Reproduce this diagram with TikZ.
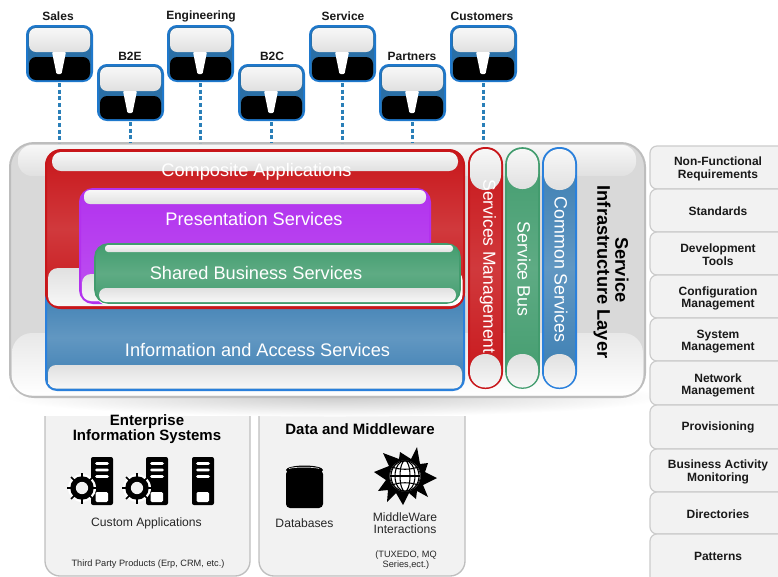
\documentclass[tikz,border=0pt]{standalone}
\usepackage{fontspec}
\setmainfont{Liberation Sans}
\newcommand\fs[1]{\fontsize{#1}{#1}\selectfont}
\tikzset{
  rr/.style={rounded corners=#1*0.75pt},
  bxbase/.style={inner sep=0pt,outer sep=0pt},
  glossdown/.style={top color=white!97!black,bottom color=black!12},
  glossup/.style={top color=black!12,bottom color=white!97!black},
  mainlabel/.style={text=white,font=\fs{13.65},inner sep=0pt},
  pilllabel/.style={text=white,font=\fs{13.4},inner sep=0pt},
  grouplabel/.style={text=black,font=\bfseries\fontsize{11.25}{11.4}\selectfont,align=center,inner sep=0pt},
  smalllabel/.style={text=black!85,font=\fontsize{9.1}{9.2}\selectfont,align=center,inner sep=0pt},
  tinylabel/.style={text=black!85,font=\fontsize{6.9}{7.6}\selectfont,align=center,inner sep=0pt},
  sidelabel/.style={text=black!90,font=\bfseries\fontsize{9}{9.6}\selectfont,align=center,inner sep=0pt},
  userlabel/.style={text=black!90,font=\bfseries\fs{9},inner sep=0pt},
  dotline/.style={draw=dotblue,line width=2.25pt,dash pattern=on 3pt off 2pt},
  sidebox/.style={draw=black!20,line width=0.9pt,fill=black!5,rr=7},
  redbox/.style={draw=cred,line width=1.5pt,top color=cred,bottom color=cred,middle color=cred!85!white},
  bluebox/.style={draw=cblueline,line width=1.5pt,top color=cblue,bottom color=cblue,middle color=cblue!80!white},
  greenbox/.style={draw=cgreen,line width=1.2pt,top color=cgreen,bottom color=cgreen,middle color=cgreen!85!white},
  purplebox/.style={draw=cpurple,line width=1.5pt,top color=cpurple,bottom color=cpurple!85!white}
}
\definecolor{cred}{HTML}{C8161A}
\definecolor{cblue}{HTML}{3A7DB2}
\definecolor{cblueline}{HTML}{2A80DC}
\definecolor{cgreen}{HTML}{429C6E}
\definecolor{cpurple}{HTML}{B232EE}
\definecolor{dotblue}{HTML}{2A7FB8}
\definecolor{iconblue}{HTML}{2A6FA6}
\definecolor{iconline}{HTML}{1E78CC}
% name x1 y1 x2 y2 style text
\newcommand\bx[7]{\node[bxbase,minimum width={((#4)-(#2))*0.75pt},minimum height={((#5)-(#3))*0.75pt},#6] (#1) at ({((#2)+(#4))/2},{((#3)+(#5))/2}) {#7};}
% name x y
\newcommand\usericon[3]{%
  \bx{#1}{#2}{#3}{#2+65}{#3+55}{draw=iconline,line width=1.5pt,fill=iconblue,rr=9}{}
  \bx{#1-top}{#2+2}{#3+2}{#2+63}{#3+26}{glossdown,rr=7}{}
  \bx{#1-low}{#2+2}{#3+31}{#2+63}{#3+54}{fill=black,rr=7}{}
  \fill[white,rounded corners=0.8pt] ({#2+25},{#3+26}) -- ({#2+39},{#3+26}) -- ({#2+34.5},{#3+48}) -- ({#2+29.5},{#3+48}) -- cycle;
}
% x y top-left
\newcommand\server[2]{%
  \fill[black,rounded corners=1.5pt] (#1,#2) rectangle ({#1+22},{#2+48});
  \foreach \dy in {6.5,13,19.5}{\fill[white,rounded corners=1pt] ({#1+4},{#2+\dy-1.3}) rectangle ({#1+18},{#2+\dy+1.3});}
}
\newcommand\serverbox[2]{\fill[white,rounded corners=1pt] ({#1+4.5},{#2+35}) rectangle ({#1+17},{#2+45});}
\newcommand\gear[2]{%
  \fill[white] (#1,#2) circle[radius=10.5pt];
  \foreach \a in {0,45,...,315}{\draw[white,line width=2.6pt] (#1,#2) -- ++({\a}:13);}
  \foreach \a in {0,45,...,315}{\draw[black,line width=1.3pt] (#1,#2) -- ++({\a}:15.5);}
  \fill[black] (#1,#2) circle[radius=8.8pt];
  \fill[white!95!black] (#1,#2) circle[radius=4.6pt];
}
\begin{document}
\begin{tikzpicture}[x=0.75pt,y=-0.75pt]
\useasboundingbox (0,0) rectangle (778,576);
\clip (0,0) rectangle (778,576);
\fill[white] (0,0) rectangle (778,576);

% user icons
\usericon{sales}{27}{26}
\usericon{engineering}{168}{26}
\usericon{service}{310}{26}
\usericon{customers}{451}{26}
\usericon{btwoe}{98}{65}
\usericon{btwoc}{239}{65}
\usericon{partners}{380}{65}
\node[userlabel] (lsales) at (58,16) {Sales};
\node[userlabel] (lengineering) at (201,16) {Engineering};
\node[userlabel] (lservice) at (343,16) {Service};
\node[userlabel] (lcustomers) at (482,16) {Customers};
\node[userlabel] (lbtwoe) at (130,56) {B2E};
\node[userlabel] (lbtwoc) at (272,56) {B2C};
\node[userlabel] (lpartners) at (412,56) {Partners};

% bottom panels
\begin{scope}
\clip (40,416) rectangle (470,580);
\bx{eis}{45}{395}{250}{576}{draw=black!25,line width=1pt,fill=black!5,rr=15}{}
\bx{data}{259}{395}{465}{576}{draw=black!25,line width=1pt,fill=black!5,rr=15}{}
\end{scope}
% soft shadow under the layer
\shade[inner color=black!20,outer color=white] (335,397) ellipse[x radius=330,y radius=19.5];

% container layer
\bx{layer}{10}{143}{645}{397}{draw=black!26,line width=1.5pt,fill=black!15,rr=24}{}
\bx{layertop}{18}{145}{636}{176}{glossdown,rr=14}{}
\bx{layerlow}{12}{333}{643}{395.5}{top color=black!9,bottom color=white,rr=20}{}

% connectors
\foreach \n in {sales,engineering,service,customers,btwoe,btwoc,partners}{
  \draw[dotline] ([yshift=-1.5pt]\n.south) -- (\n.south |- layer.north);
}

% information and access
\bx{info}{46}{285}{464}{390}{bluebox,rr=11}{}
\bx{infolow}{48}{365}{462}{388.5}{glossup,rr=8}{}
% composite
\bx{comp}{46}{150}{464}{308}{redbox,rr=15}{}
\bx{comptop}{52}{152}{458}{171}{glossdown,rr=9}{}
\bx{complow}{48}{268}{461}{306}{glossup,rr=10}{}
% presentation
\bx{pres}{80}{189}{430}{303}{purplebox,rr=13}{}
\bx{prestop}{84}{190}{426}{204}{glossdown,rr=6}{}
\bx{preslow}{82}{274}{428}{301}{glossup,rr=9}{}
% shared: white edge first
\bx{sharededge}{97}{270}{462.5}{305}{fill=white,rr=10}{}
\bx{shared}{95}{244}{460}{303}{greenbox,rr=13}{}
\bx{sharedtop}{105}{245}{453}{252}{glossdown,rr=3}{}
\bx{sharedlow}{99}{288}{456}{302}{glossup,rr=7}{}

% pills
\bx{pillred}{469}{148}{502}{388}{redbox,rr=16}{}
\bx{pillredtop}{470}{149}{501}{190}{glossdown,rr=15}{}
\bx{pillredlow}{470}{354}{501}{387.5}{glossup,rr=15}{}
\bx{pillgreen}{506}{148}{539}{388}{greenbox,rr=16}{}
\bx{pillgreentop}{507}{149}{538}{189}{glossdown,rr=15}{}
\bx{pillgreenlow}{507}{354}{538}{387.5}{glossup,rr=15}{}
\bx{pillblue}{543}{148}{576}{388}{bluebox,rr=16}{}
\bx{pillbluetop}{544}{149}{575}{190}{glossdown,rr=15}{}
\bx{pillbluelow}{544}{354}{575}{387.5}{glossup,rr=15}{}

% main labels
\node[mainlabel] (tcomp) at (256.5,172) {Composite Applications};
\node[mainlabel] (tpres) at (254,219) {Presentation Services};
\node[mainlabel] (tshared) at (256,272.5) {Shared Business Services};
\node[mainlabel] (tinfo) at (257.5,350) {Information and Access Services};
\node[pilllabel,font=\fs{13.1},rotate=-90] (tsm) at (488,266.5) {Services Management};
\node[pilllabel,rotate=-90] (tsb) at (524,269) {Service Bus};
\node[pilllabel,rotate=-90] (tcs) at (561,269.5) {Common Services};
\node[grouplabel,font=\bfseries\fs{13.7},rotate=-90] (tsvc) at (622,270) {Service};
\node[grouplabel,font=\bfseries\fs{13.7},rotate=-90] (tinfra) at (602,272) {Infrastructure Layer};

% side panels
\bx{s1}{650}{146}{790}{189}{sidebox}{}
\bx{s2}{650}{189}{790}{232}{sidebox}{}
\bx{s3}{650}{232}{790}{275}{sidebox}{}
\bx{s4}{650}{275}{790}{318}{sidebox}{}
\bx{s5}{650}{318}{790}{361}{sidebox}{}
\bx{s6}{650}{361}{790}{405}{sidebox}{}
\bx{s7}{650}{405}{790}{449}{sidebox}{}
\bx{s8}{650}{449}{790}{492}{sidebox}{}
\bx{s9}{650}{492}{790}{534}{sidebox}{}
\bx{s10}{650}{534}{790}{585}{sidebox}{}
\node[sidelabel] (t1) at (718,168.5) {Non-Functional\\Requirements};
\node[sidelabel] (t2) at (718,211.5) {Standards};
\node[sidelabel] (t3) at (718,255) {Development\\Tools};
\node[sidelabel] (t4) at (718,298.5) {Configuration\\Management};
\node[sidelabel] (t5) at (718,341.5) {System\\Management};
\node[sidelabel] (t6) at (718,385.5) {Network\\Management};
\node[sidelabel] (t7) at (718,427.5) {Provisioning};
\node[sidelabel] (t8) at (718,472) {Business Activity\\Monitoring};
\node[sidelabel] (t9) at (718,514.5) {Directories};
\node[sidelabel] (t10) at (718,556.5) {Patterns};

% bottom texts
\node[grouplabel] (teis) at (147,429.5) {Enterprise\\Information Systems};
\node[grouplabel] (tdata) at (360,429.5) {Data and Middleware};
\node[smalllabel] (tcustom) at (146.5,523) {Custom Applications};
\node[tinylabel] (tthird) at (148,564) {Third Party Products (Erp, CRM, etc.)};
\node[smalllabel] (tdb) at (304.5,523) {Databases};
\node[smalllabel] (tmw) at (405,523) {MiddleWare\\Interactions};
\node[tinylabel] (ttux) at (406,560) {(TUXEDO, MQ\\Series,ect.)};

% server icons
\server{91}{457}\serverbox{91}{457}\gear{82}{488}
\server{146}{457}\serverbox{146}{457}\gear{137}{488}
\server{192}{457}\serverbox{192}{457}

% database
\fill[black,rounded corners=3pt] (286,470) rectangle (323,508);
\fill[black] (304.5,470) ellipse[x radius=18.5,y radius=4.5];
\draw[white!85!black,line width=0.5pt] (289,468.5) arc[start angle=200,end angle=340,x radius=16,y radius=2];

% middleware globe
\fill[black] (417,447) -- (411,459) -- (400,452) -- (399,459) -- (383,453) -- (389,466) -- (374,472) -- (386,480)
  -- (378,491) -- (388,490) -- (387,502) -- (396,493) -- (403,505) -- (409,493) -- (416,499) -- (417,491) -- (428,497)
  -- (423,485) -- (437,478) -- (425,472) -- (428,463) -- (420,464) -- cycle;
\fill[white] (405,476) circle[radius=15.5];
\begin{scope}
\clip (405,476) circle[radius=15.5];
\draw[black,line width=0.9pt] (405,476) circle[radius=15.5];
\foreach \r in {5,10,14}{\draw[black,line width=0.8pt] (405,476) ellipse[x radius=\r,y radius=15.5];}
\draw[black,line width=0.8pt] (390,476) -- (420,476);
\draw[black,line width=0.8pt] (392,467) .. controls (400,470) and (410,470) .. (418,467);
\draw[black,line width=0.8pt] (392,485) .. controls (400,482) and (410,482) .. (418,485);
\end{scope}
\end{tikzpicture}
\end{document}
